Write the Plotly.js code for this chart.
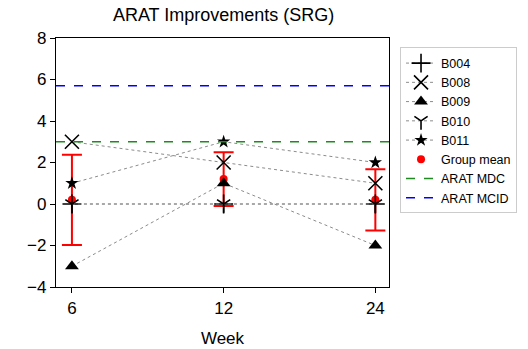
<!DOCTYPE html>
<html>
<head>
<meta charset="utf-8">
<script src="https://cdn.plot.ly/plotly-3.0.1.min.js"></script>
<style>body{margin:0;padding:0;background:#fff;}#chart{width:528px;height:349px;}</style>
</head>
<body>
<div id="chart"></div>
<script>
const weeks = ['6', '12', '24'];
const B004 = [0, 0, 0];
const B008 = [3, 2, 1];
const B009 = [-3, 1, -2];
const B010 = [0, 0, 0];
const B011 = [1, 3, 2];
const groupMean = [0.2, 1.2, 0.2];
const groupSD = [2.17, 1.30, 1.48];
const aratMDC = 3;
const aratMCID = 5.7;

const lineStyle = {color: '#8c8c8c', width: 1, dash: 'dot'};
const traces = [];

traces.push({
  x: weeks, y: groupMean, name: 'Group mean', type: 'scatter', mode: 'markers',
  marker: {color: '#ff0000', size: 8, symbol: 'circle'},
  error_y: {type: 'data', array: groupSD, visible: true, color: '#ff0000', thickness: 2, width: 10},
  legendrank: 6
});

const parts = [
  {name: 'B004', y: B004, symbol: 'cross-thin-open', size: 13.5, lw: 1.6},
  {name: 'B008', y: B008, symbol: 'x-thin-open', size: 14, lw: 1.6},
  {name: 'B009', y: B009, symbol: 'triangle-up', size: 12, lw: 0},
  {name: 'B010', y: B010, symbol: 'y-down-open', size: 11, lw: 1.6},
  {name: 'B011', y: B011, symbol: 'star', size: 10, lw: 0}
];
parts.forEach((p, i) => {
  traces.push({
    x: weeks, y: p.y, name: p.name, type: 'scatter', mode: 'lines+markers',
    line: lineStyle,
    marker: {color: '#000', size: p.size, symbol: p.symbol, line: {color: '#000', width: p.lw}},
    legendrank: i + 1
  });
});

traces.push({
  x: [0, 1], y: [aratMDC, aratMDC], xaxis: 'x2', name: 'ARAT MDC', type: 'scatter', mode: 'lines',
  line: {color: '#1f8a1f', width: 1.5, dash: 'dash'}, legendrank: 7
});
traces.push({
  x: [0, 1], y: [aratMCID, aratMCID], xaxis: 'x2', name: 'ARAT MCID', type: 'scatter', mode: 'lines',
  line: {color: '#0000ff', width: 1.5, dash: 'dash'}, legendrank: 8
});

const layout = {
  width: 528, height: 349,
  margin: {l: 56, r: 138, t: 38, b: 62},
  paper_bgcolor: '#fff', plot_bgcolor: '#fff',
  font: {family: 'Liberation Sans, Arial, sans-serif', color: '#000'},
  title: {text: 'ARAT Improvements (SRG)', font: {size: 18}, x: 0.4235, xanchor: 'center', y: 0.957, yanchor: 'middle'},
  xaxis: {
    type: 'category', range: [-0.105, 2.09],
    showline: true, linecolor: '#000', linewidth: 1.2, mirror: true,
    ticks: 'outside', ticklen: 5, tickcolor: '#000', showgrid: false, zeroline: false,
    tickfont: {size: 17},
    title: {text: 'Week', font: {size: 17}, standoff: 15}
  },
  xaxis2: {overlaying: 'x', range: [0, 1], visible: false},
  yaxis: {
    range: [-4, 8], tickvals: [-4, -2, 0, 2, 4, 6, 8],
    showline: true, linecolor: '#000', linewidth: 1.2, mirror: true,
    ticks: 'outside', ticklen: 5, tickcolor: '#000', showgrid: false, zeroline: false,
    tickfont: {size: 17}
  },
  legend: {
    x: 1.03, y: 0.962, xanchor: 'left', yanchor: 'top',
    bordercolor: '#cccccc', borderwidth: 1, bgcolor: '#fff',
    font: {size: 12.5}, itemwidth: 30, tracegroupgap: 0
  },
  showlegend: true
};

Plotly.newPlot('chart', traces, layout, {displayModeBar: false, staticPlot: true});
</script>
</body>
</html>
